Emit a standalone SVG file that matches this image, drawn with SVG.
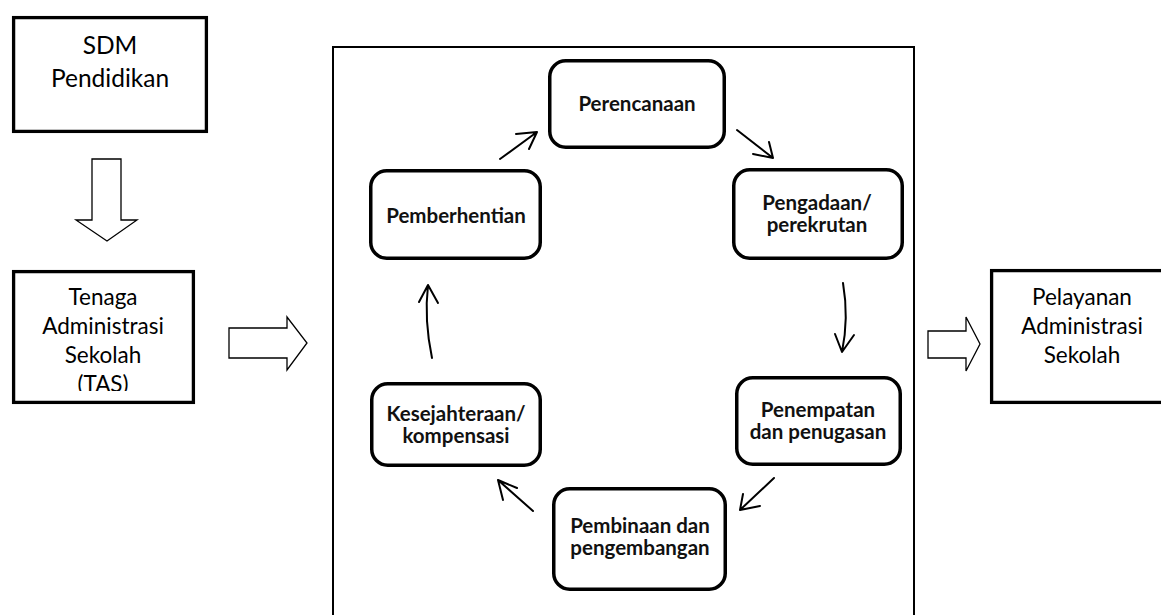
<svg xmlns="http://www.w3.org/2000/svg" width="1161" height="615" viewBox="0 0 1161 615">
<defs>
<style>
.sq{fill:#fff;stroke:#000;stroke-width:3.3}
.rn{fill:#fff;stroke:#000;stroke-width:3.5}
.blk{fill:#fff;stroke:#000;stroke-width:1.3;stroke-linejoin:miter}
.frame{fill:none;stroke:#000;stroke-width:2}
.ln{fill:none;stroke:#000;stroke-width:2;stroke-linecap:round;stroke-linejoin:round}
.t{font-family:Lato,"Open Sans","Liberation Sans",sans-serif;font-size:22.5px;fill:#000;text-anchor:middle}
.big{font-size:24.5px}
.b{font-family:Lato,"Open Sans","Liberation Sans",sans-serif;font-size:20.5px;font-weight:bold;fill:#111;text-anchor:middle}
</style>
<clipPath id="tasclip"><rect x="12" y="270" width="185" height="121"/></clipPath>
</defs>
<rect width="1161" height="615" fill="#fff"/>

<g id="frame"><path class="frame" d="M333,615 V47 H914 V615"/></g>

<g id="sdm">
<rect class="sq" x="13.6" y="17.6" width="192.8" height="113.8"/>
<text class="t big" x="110" y="54">SDM</text>
<text class="t big" x="110" y="87">Pendidikan</text>
</g>

<g id="tas">
<rect class="sq" x="13.6" y="271.6" width="179.8" height="130.8"/>
<g clip-path="url(#tasclip)">
<text class="t" x="103" y="305">Tenaga</text>
<text class="t" x="103" y="334">Administrasi</text>
<text class="t" x="103" y="363">Sekolah</text>
<text class="t" x="103" y="392">(TAS)</text>
</g>
</g>

<g id="pelayanan">
<rect class="sq" x="991.6" y="270.6" width="200" height="131.8"/>
<text class="t" x="1082" y="305">Pelayanan</text>
<text class="t" x="1082" y="334">Administrasi</text>
<text class="t" x="1082" y="363">Sekolah</text>
</g>

<g id="perencanaan">
<rect class="rn" x="549.75" y="60.75" width="174.5" height="86.5" rx="16"/>
<text class="b" x="637" y="111">Perencanaan</text>
</g>
<g id="pengadaan">
<rect class="rn" x="733.75" y="169.75" width="168.5" height="88.5" rx="16"/>
<text class="b" x="817" y="210">Pengadaan/</text>
<text class="b" x="817" y="232">perekrutan</text>
</g>
<g id="penempatan">
<rect class="rn" x="736.75" y="377.75" width="163.5" height="86.5" rx="16"/>
<text class="b" x="818" y="417">Penempatan</text>
<text class="b" x="818" y="439">dan penugasan</text>
</g>
<g id="pembinaan">
<rect class="rn" x="553.75" y="488.75" width="171.5" height="100.5" rx="16"/>
<text class="b" x="640" y="533">Pembinaan dan</text>
<text class="b" x="640" y="555">pengembangan</text>
</g>
<g id="kesejahteraan">
<rect class="rn" x="371.75" y="383.75" width="168.5" height="81.5" rx="16"/>
<text class="b" x="456" y="421">Kesejahteraan/</text>
<text class="b" x="456" y="443">kompensasi</text>
</g>
<g id="pemberhentian">
<rect class="rn" x="370.75" y="170.75" width="169.5" height="87.5" rx="16"/>
<text class="b" x="456" y="223">Pemberhentian</text>
</g>

<g id="connectors">
<polygon class="blk" points="92,159 121,159 121,220 137,220 107,241 76,220 92,220"/>
<polygon class="blk" points="229,328 287,328 287,317 307,343 287,370 287,358 229,358"/>
<polygon class="blk" points="928,331 966,331 966,317 980,344 966,371 966,358 928,358"/>
<path class="ln" d="M500,159 L537,132 M516,134 L537,132 L529,149"/>
<path class="ln" d="M737,130 L773,158 M753,154 L773,158 L769,142"/>
<path class="ln" d="M843,283 Q849,318 842,352 M835,334 L842,352 L854,335"/>
<path class="ln" d="M774,478 L740,510 M743,494 L740,510 L760,506"/>
<path class="ln" d="M533,511 L498,480 M503,500 L498,480 L517,488"/>
<path class="ln" d="M432,358 Q424,320 428,285 M419,302 L428,285 L438,303"/>
</g>
</svg>
